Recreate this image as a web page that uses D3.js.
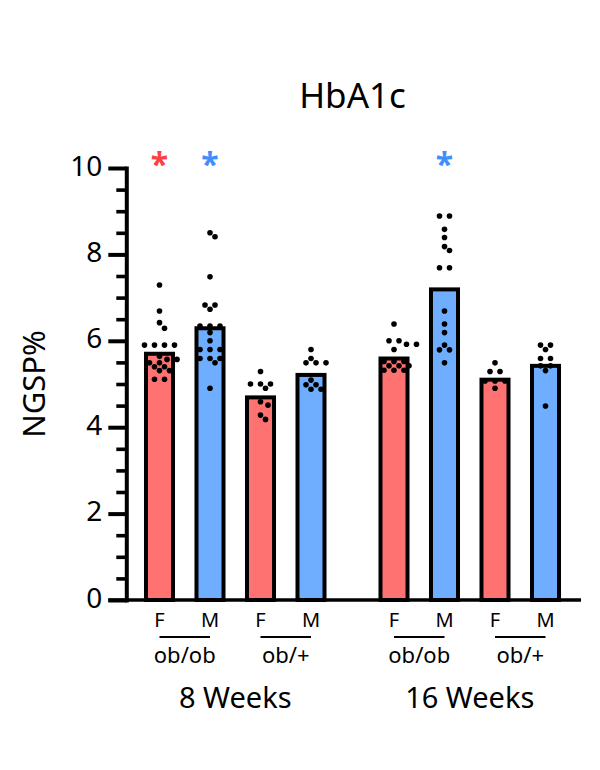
<!DOCTYPE html>
<html>
<head>
<meta charset="utf-8">
<script src="https://cdn.jsdelivr.net/npm/d3@7"></script>
<style>
  html, body { margin: 0; padding: 0; background: #fff; }
  svg { display: block; }
  text { font-family: "Noto Sans", "Open Sans", sans-serif; fill: #000; }
</style>
</head>
<body>
<script>
// ---------------- data ----------------
const chartTitle = "HbA1c";
const yLabel = "NGSP%";
const weeks = ["8 Weeks", "16 Weeks"];
const genotypes = ["ob/ob", "ob/+"];
const sexes = ["F", "M"];
const yMajorTicks = [0, 2, 4, 6, 8, 10];
const yMinorTicks = [0.5, 1, 1.5, 2.5, 3, 3.5, 4.5, 5, 5.5, 6.5, 7, 7.5, 8.5, 9, 9.5];

// bar heights (group means), order: 8wk ob/ob F, M, ob/+ F, M, 16wk ob/ob F, M, ob/+ F, M
const barMeans = [5.70, 6.29, 4.69, 5.21, 5.59, 7.19, 5.10, 5.42];
// significance marks above bars
const sigMarks = ["*", "*", "", "", "", "*", "", ""];

// individual points
const wk8ObObF = [7.29, 6.69, 6.42, 6.29, 5.90, 5.90, 5.90, 5.90, 5.64, 5.57, 5.57, 5.49, 5.49, 5.40, 5.40, 5.31, 5.31, 5.11, 5.11];
const wk8ObObM = [8.50, 8.41, 7.48, 6.83, 6.83, 6.73, 6.34, 6.34, 6.34, 6.19, 6.00, 5.80, 5.80, 5.80, 5.59, 5.59, 5.59, 5.49, 4.90];
const wk8HetF  = [5.29, 5.00, 5.00, 5.00, 4.90, 4.59, 4.51, 4.28, 4.18];
const wk8HetM  = [5.80, 5.59, 5.49, 5.49, 5.49, 5.09, 4.98, 4.98, 4.88, 4.88];
const wk16ObObF = [6.39, 6.00, 6.00, 5.92, 5.92, 5.80, 5.52, 5.52, 5.52, 5.42, 5.42, 5.42, 5.32, 5.32, 5.32];
const wk16ObObM = [8.89, 8.89, 8.58, 8.39, 8.18, 8.09, 7.69, 7.69, 6.69, 6.39, 6.19, 5.90, 5.79, 5.79, 5.49];
const wk16HetF  = [5.49, 5.29, 5.29, 5.07, 5.07, 5.07, 4.90];
const wk16HetM  = [5.90, 5.90, 5.80, 5.59, 5.59, 5.42, 5.42, 5.31, 4.49];
const points = [wk8ObObF, wk8ObObM, wk8HetF, wk8HetM, wk16ObObF, wk16ObObM, wk16HetF, wk16HetM];

// ---------------- styles ----------------
const femaleFill = "#FF7272";
const maleFill = "#6FAEFF";
const femaleStar = "#FF4040";
const maleStar = "#3F8EFF";

// ---------------- build ----------------
const W = 600, H = 770;
const svg = d3.select("body").append("svg").attr("width", W).attr("height", H);

const inner = [];
genotypes.forEach(g => sexes.forEach(s => inner.push(g + "|" + s)));

const bars = barMeans.map((m, i) => {
  const wk = weeks[Math.floor(i / 4)];
  const key = inner[i % 4];
  const [geno, sex] = key.split("|");
  return { i, week: wk, key, geno, sex, mean: m, pts: points[i], sig: sigMarks[i] };
});

const xWeek = d3.scaleBand().domain(weeks).range([134.25, 570.75]).paddingInner(0.1386).paddingOuter(0);
const xBar = d3.scaleBand().domain(inner).range([0, xWeek.bandwidth()]).paddingInner(0.465).paddingOuter(0.2325);
const y = d3.scaleLinear().domain([0, 10]).range([600, 168]);

const cx = d => xWeek(d.week) + xBar(d.key) + xBar.bandwidth() / 2;
const axisX = 126.3;

// bars
svg.append("g").selectAll("rect").data(bars).join("rect")
  .attr("x", d => xWeek(d.week) + xBar(d.key))
  .attr("y", d => y(d.mean))
  .attr("width", xBar.bandwidth())
  .attr("height", d => y(0) - y(d.mean))
  .attr("fill", d => d.sex === "F" ? femaleFill : maleFill)
  .attr("stroke", "#000")
  .attr("stroke-width", 4);

// dots: simple row-based swarm
const r = 2.8, spacing = 10, minDist = 6.2;
const dotData = [];
bars.forEach(b => {
  const sorted = b.pts.slice().sort((a, c) => c - a);
  const rows = [];
  sorted.forEach(v => {
    const last = rows[rows.length - 1];
    if (last && last.v === v) last.n++; else rows.push({ v, n: 1 });
  });
  const placed = [];
  const c = cx(b);
  rows.forEach(row => {
    const yy = y(row.v);
    const base = d3.range(row.n).map(k => (k - (row.n - 1) / 2) * spacing);
    const shifts = [0];
    for (let s = 2.5; s <= 30; s += 2.5) { shifts.push(s, -s); }
    let chosen = 0;
    for (const s of shifts) {
      const ok = base.every(o => placed.every(p => Math.hypot(p.x - (c + o + s), p.y - yy) >= minDist));
      if (ok) { chosen = s; break; }
    }
    base.forEach(o => {
      const p = { x: c + o + chosen, y: yy };
      placed.push(p);
      dotData.push(p);
    });
  });
});

// y axis
const gY = svg.append("g").attr("transform", `translate(${axisX},0)`);
gY.call(d3.axisLeft(y).tickValues(yMinorTicks).tickSize(10).tickSizeOuter(0).tickFormat(""))
  .call(g => g.select(".domain").remove())
  .call(g => g.selectAll(".tick line").attr("stroke", "#000").attr("stroke-width", 3.6));
const gY2 = svg.append("g").attr("transform", `translate(${axisX},0)`);
gY2.call(d3.axisLeft(y).tickValues(yMajorTicks).tickSize(18).tickSizeOuter(0).tickPadding(6).tickFormat(d3.format("d")))
  .call(g => g.select(".domain").attr("stroke", "#000").attr("stroke-width", 4).attr("stroke-linecap", "square"))
  .call(g => g.selectAll(".tick line").attr("stroke", "#000").attr("stroke-width", 4))
  .call(g => g.selectAll(".tick text")
    .attr("font-size", 28).attr("font-family", "Noto Sans").attr("dy", null).attr("y", 7).attr("x", -24));

// x axis baseline
svg.append("line")
  .attr("x1", axisX - 18).attr("x2", 581)
  .attr("y1", y(0)).attr("y2", y(0))
  .attr("stroke", "#000").attr("stroke-width", 3.6);

// dots on top
svg.append("g").selectAll("circle").data(dotData).join("circle")
  .attr("cx", d => d.x).attr("cy", d => d.y).attr("r", r).attr("fill", "#000");

// significance stars
svg.append("g").selectAll("text").data(bars.filter(b => b.sig)).join("text")
  .attr("x", cx).attr("y", 176)
  .attr("text-anchor", "middle")
  .attr("font-size", 32)
  .attr("font-weight", "bold")
  .attr("fill", d => d.sex === "F" ? femaleStar : maleStar)
  .style("fill", d => d.sex === "F" ? femaleStar : maleStar)
  .text(d => d.sig);

// sex labels
svg.append("g").selectAll("text").data(bars).join("text")
  .attr("x", cx).attr("y", 627)
  .attr("text-anchor", "middle").attr("font-size", 20)
  .text(d => d.sex);

// genotype lines + labels
const genoGroups = [];
weeks.forEach(w => genotypes.forEach(g => {
  const bs = bars.filter(b => b.week === w && b.geno === g);
  genoGroups.push({ week: w, geno: g, x1: cx(bs[0]), x2: cx(bs[bs.length - 1]) });
}));
svg.append("g").selectAll("line").data(genoGroups).join("line")
  .attr("x1", d => d.x1).attr("x2", d => d.x2)
  .attr("y1", 637).attr("y2", 637)
  .attr("stroke", "#000").attr("stroke-width", 2.2);
svg.append("g").selectAll("text").data(genoGroups).join("text")
  .attr("x", d => (d.x1 + d.x2) / 2).attr("y", 663)
  .attr("text-anchor", "middle").attr("font-size", 22)
  .text(d => d.geno);

// week labels
svg.append("g").selectAll("text").data(weeks).join("text")
  .attr("x", d => xWeek(d) + xWeek.bandwidth() / 2).attr("y", 708)
  .attr("text-anchor", "middle").attr("font-size", 29)
  .text(d => d);

// title
svg.append("text")
  .attr("x", 352.5).attr("y", 108)
  .attr("text-anchor", "middle").attr("font-size", 35)
  .text(chartTitle);

// y label
svg.append("text")
  .attr("transform", `translate(45,384) rotate(-90)`)
  .attr("text-anchor", "middle").attr("font-size", 31)
  .text(yLabel);
</script>
</body>
</html>
